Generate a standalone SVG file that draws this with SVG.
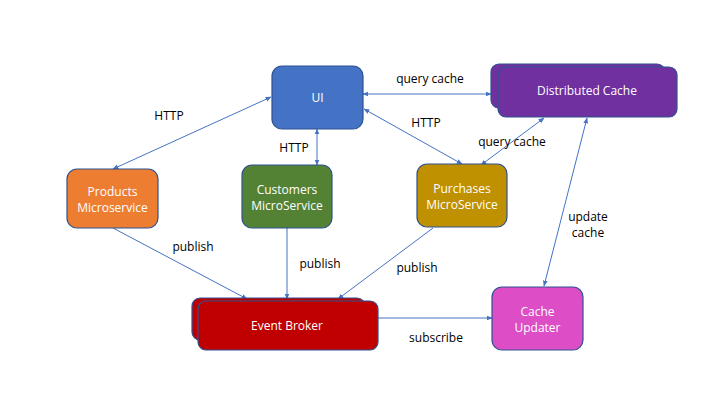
<svg xmlns="http://www.w3.org/2000/svg" width="720" height="405" viewBox="0 0 720 405">
<defs>
<marker id="ah" viewBox="0 0 10 10" refX="9" refY="5" markerWidth="6" markerHeight="6" orient="auto-start-reverse" markerUnits="userSpaceOnUse">
<path d="M0,1 L10,5 L0,9 z" fill="#4472C4"/>
</marker>
<style>
.n{stroke:#2F528F;stroke-width:1.2}
.t{font-family:"Open Sans","Liberation Sans",sans-serif;font-size:12px;fill:#fff;text-anchor:middle}
.l{font-family:"Open Sans","Liberation Sans",sans-serif;font-size:12px;fill:#000;text-anchor:middle}
.c{stroke:#4472C4;stroke-width:1;fill:none;marker-end:url(#ah)}
.b{marker-start:url(#ah)}
</style>
</defs>
<rect width="720" height="405" fill="#fff"/>
<g id="connectors">
<line class="c b" x1="271" y1="97" x2="113" y2="169"/>
<line class="c b" x1="317" y1="129" x2="317" y2="165"/>
<line class="c b" x1="364" y1="109" x2="462" y2="164"/>
<line class="c b" x1="363" y1="94" x2="491" y2="94"/>
<line class="c b" x1="481" y1="165" x2="544" y2="118"/>
<line class="c b" x1="587" y1="118" x2="544" y2="286"/>
<line class="c" x1="113" y1="228" x2="247" y2="299"/>
<line class="c" x1="287" y1="228" x2="287" y2="299"/>
<line class="c" x1="433" y1="228" x2="338" y2="299"/>
<line class="c" x1="378" y1="318" x2="492" y2="318"/>
<text class="l" x="169" y="120">HTTP</text>
<text class="l" x="294" y="152">HTTP</text>
<text class="l" x="426" y="127">HTTP</text>
<text class="l" x="430" y="83">query cache</text>
<text class="l" x="512" y="146">query cache</text>
<text class="l" x="588" y="221">update</text>
<text class="l" x="588" y="237">cache</text>
<text class="l" x="193" y="251">publish</text>
<text class="l" x="320" y="268">publish</text>
<text class="l" x="417" y="272">publish</text>
<text class="l" x="436" y="342">subscribe</text>
</g>
<g id="ui">
<rect class="n" x="272" y="66" width="91" height="63" rx="10" fill="#4472C4"/>
<text class="t" x="317.5" y="102">UI</text>
</g>
<g id="distributed-cache">
<rect class="n" x="491" y="64" width="174" height="44" rx="8" fill="#7030A0"/>
<rect class="n" x="498" y="67" width="179" height="50" rx="8" fill="#7030A0"/>
<text class="t" x="587" y="95">Distributed Cache</text>
</g>
<g id="products">
<rect class="n" x="67" y="169" width="91" height="59" rx="10" fill="#ED7D31"/>
<text class="t" x="112.5" y="196">Products</text>
<text class="t" x="112.5" y="212">Microservice</text>
</g>
<g id="customers">
<rect class="n" x="242" y="165" width="90" height="63" rx="10" fill="#548235"/>
<text class="t" x="287" y="194">Customers</text>
<text class="t" x="287" y="210">MicroService</text>
</g>
<g id="purchases">
<rect class="n" x="417" y="164" width="90" height="63" rx="10" fill="#BF9000"/>
<text class="t" x="462" y="193">Purchases</text>
<text class="t" x="462" y="209">MicroService</text>
</g>
<g id="event-broker">
<rect class="n" x="192" y="298" width="173" height="42" rx="8" fill="#C00000"/>
<rect class="n" x="198" y="301" width="180" height="49" rx="8" fill="#C00000"/>
<text class="t" x="287" y="330">Event Broker</text>
</g>
<g id="cache-updater">
<rect class="n" x="492" y="287" width="91" height="63" rx="10" fill="#DD4DC6"/>
<text class="t" x="537.5" y="316">Cache</text>
<text class="t" x="537.5" y="332">Updater</text>
</g>
</svg>
